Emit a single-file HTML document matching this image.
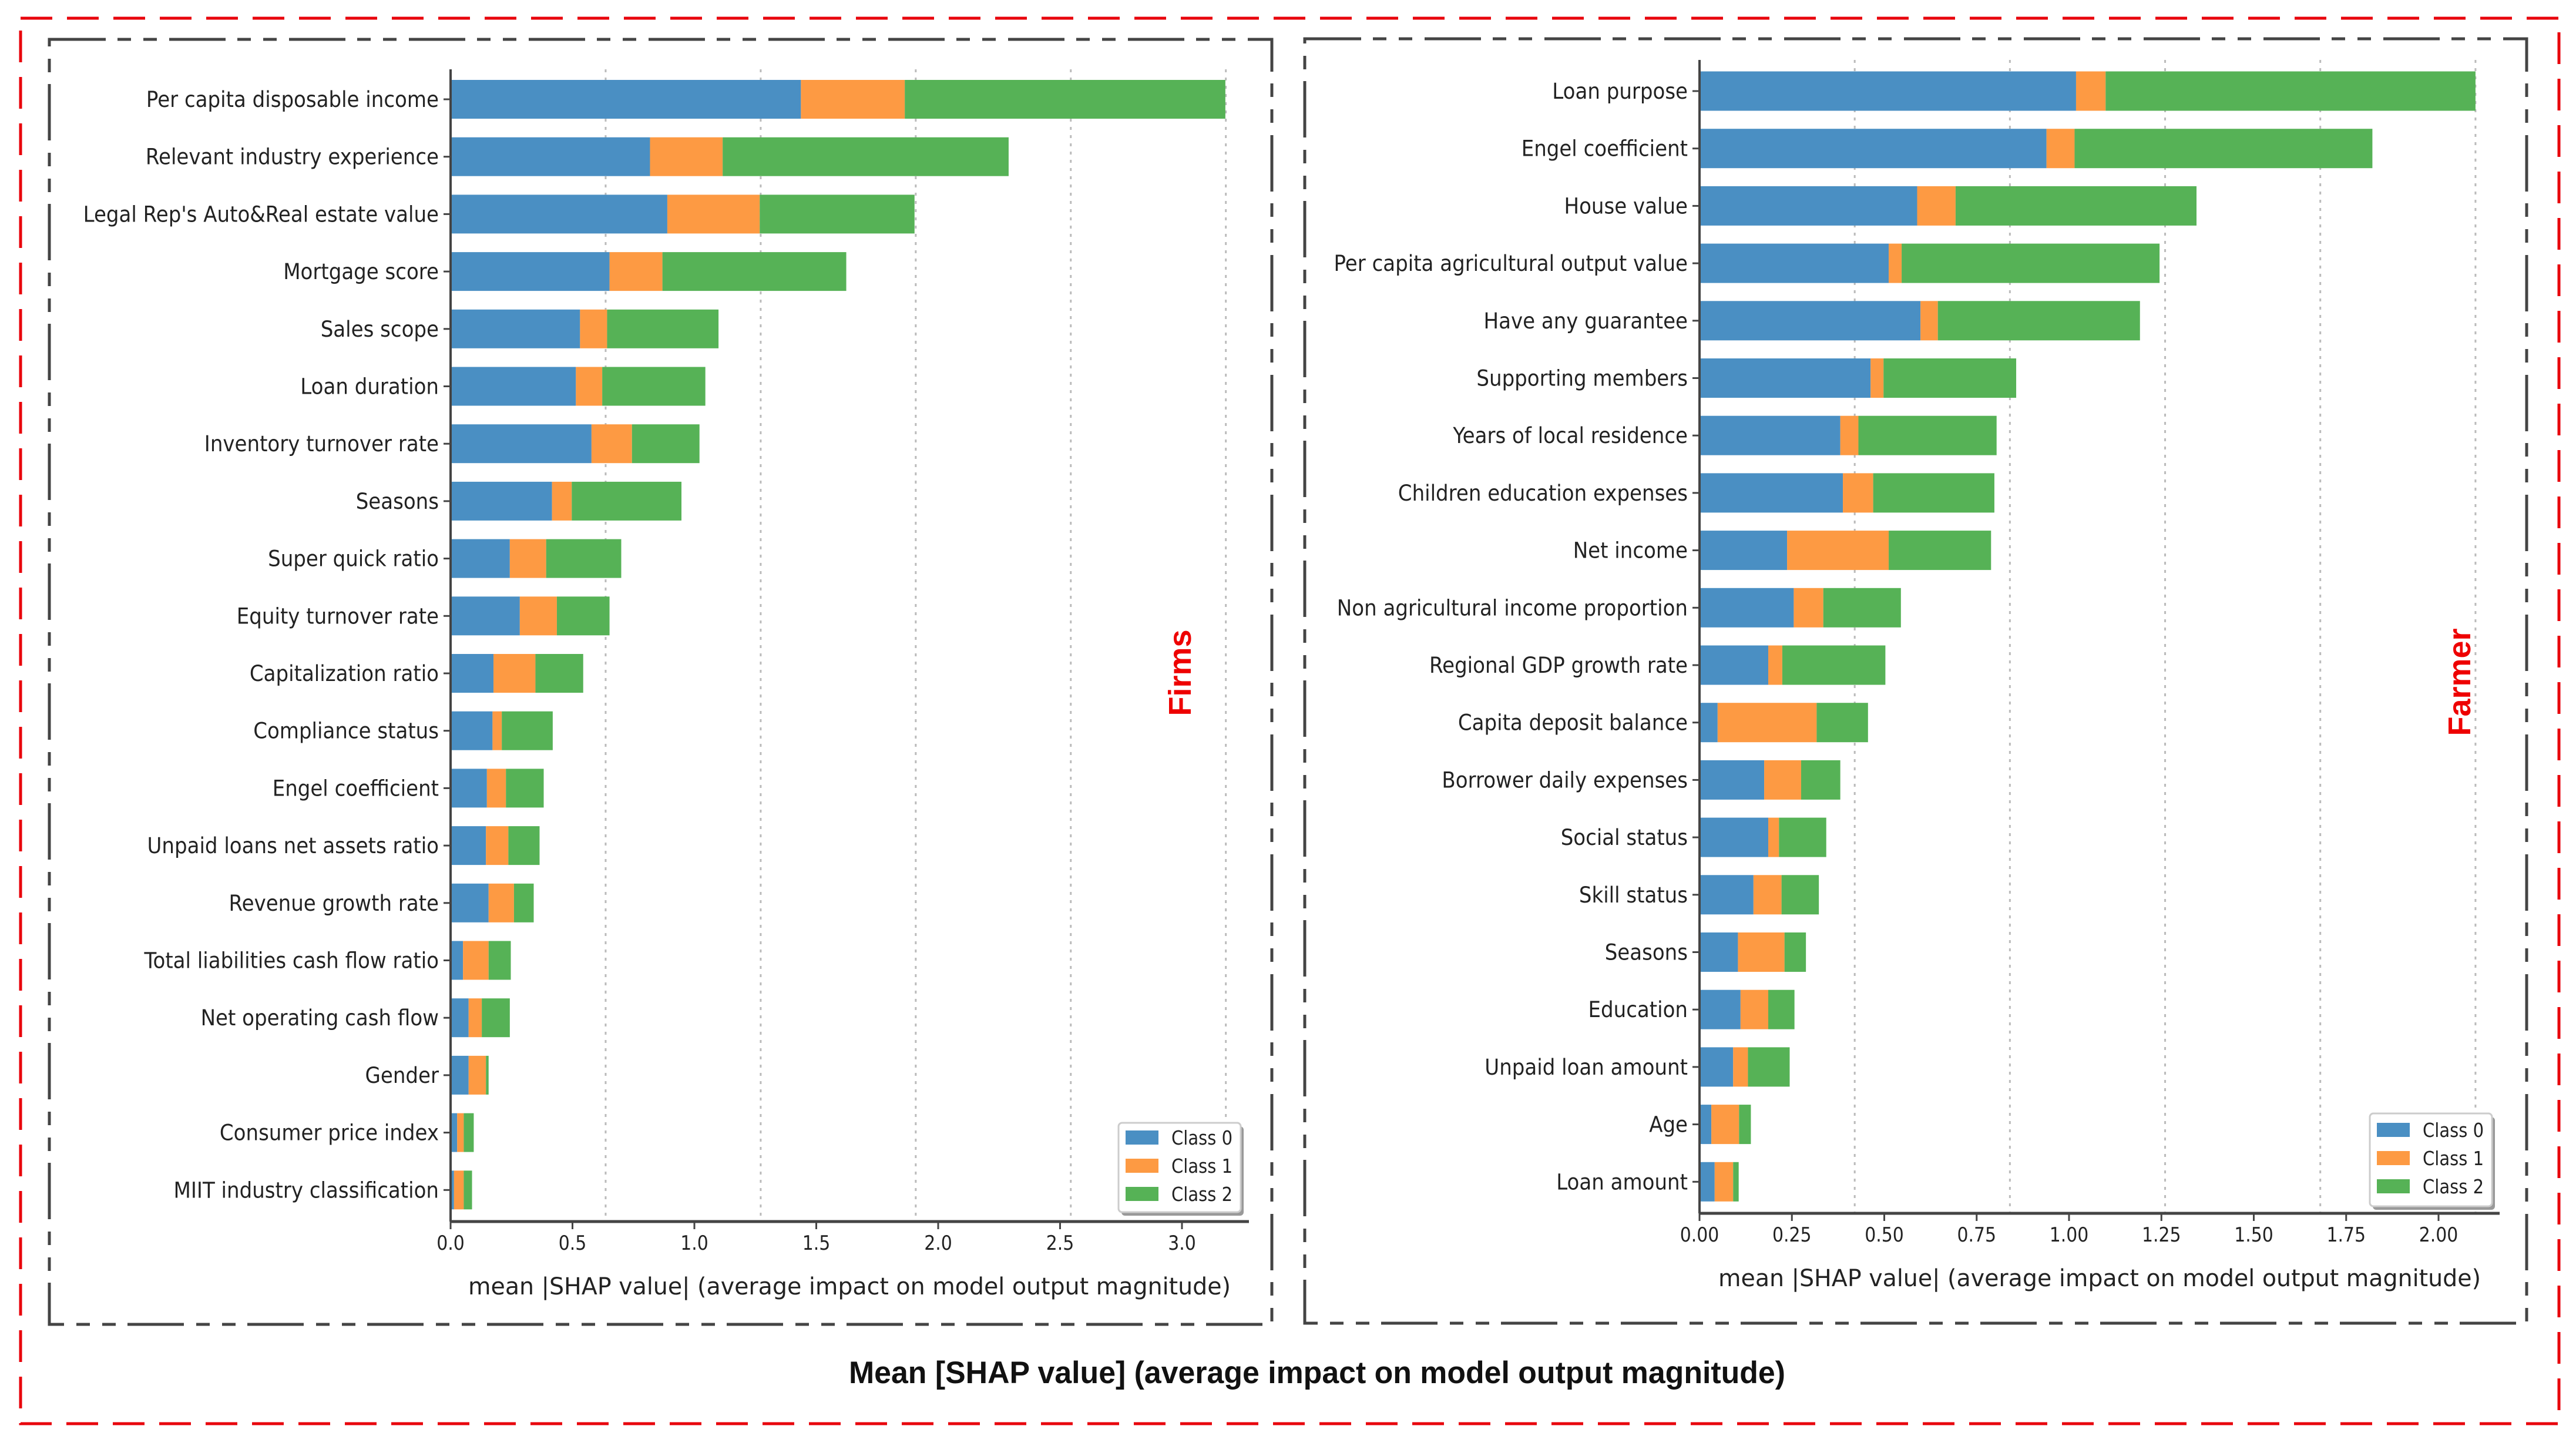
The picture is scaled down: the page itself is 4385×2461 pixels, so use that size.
<!DOCTYPE html>
<html><head><meta charset="utf-8">
<style>
html,body{margin:0;padding:0;background:#fff;}
svg{display:block;}
text{font-family:"DejaVu Sans","Liberation Sans",sans-serif;fill:#222;}
</style></head>
<body>
<svg id="fig" width="4385" height="2461" viewBox="0 0 4385 2461" xmlns="http://www.w3.org/2000/svg">
<rect x="0" y="0" width="4385" height="2461" fill="#fff"/>
<rect x="35" y="31" width="4321" height="2392" fill="none" stroke="#e8000b" stroke-width="5" stroke-dasharray="54 25"/>
<rect x="84" y="67" width="2081" height="2187" fill="none" stroke="#444" stroke-width="5" stroke-dasharray="96 20 23 21 23 21"/>
<rect x="2221" y="66" width="2080" height="2186" fill="none" stroke="#444" stroke-width="5" stroke-dasharray="96 20 23 21 23 21"/>
<text x="2242" y="2354" text-anchor="middle" font-size="53" font-weight="bold" textLength="1594" lengthAdjust="spacingAndGlyphs" style="font-family:'Liberation Sans',sans-serif;fill:#111">Mean [SHAP value] (average impact on model output magnitude)</text>
<text transform="translate(2027,1145) rotate(-90)" text-anchor="middle" font-size="54" font-weight="bold" style="font-family:'Liberation Sans',sans-serif;fill:#ee0000">Firms</text>
<text transform="translate(4205,1161) rotate(-90)" text-anchor="middle" font-size="54" font-weight="bold" style="font-family:'Liberation Sans',sans-serif;fill:#ee0000">Farmer</text>
<g id="left"></g>
<g id="right"></g>
</svg>
<script>
const firmsFeatures = ["Per capita disposable income","Relevant industry experience","Legal Rep's Auto&Real estate value","Mortgage score","Sales scope","Loan duration","Inventory turnover rate","Seasons","Super quick ratio","Equity turnover rate","Capitalization ratio","Compliance status","Engel coefficient","Unpaid loans net assets ratio","Revenue growth rate","Total liabilities cash flow ratio","Net operating cash flow","Gender","Consumer price index","MIIT industry classification"];
const firmsClass0 = [1.437,0.818,0.889,0.652,0.531,0.514,0.578,0.416,0.243,0.284,0.176,0.172,0.149,0.145,0.156,0.051,0.074,0.074,0.027,0.014];
const firmsClass1 = [0.426,0.298,0.379,0.217,0.111,0.108,0.166,0.081,0.149,0.152,0.172,0.038,0.078,0.092,0.104,0.105,0.054,0.071,0.027,0.040];
const firmsClass2 = [1.315,1.173,0.635,0.754,0.457,0.423,0.277,0.450,0.308,0.216,0.196,0.209,0.155,0.128,0.081,0.091,0.115,0.011,0.041,0.034];
const firmsTicks = [0,0.5,1.0,1.5,2.0,2.5,3.0];
const firmsTickLabels = ["0.0","0.5","1.0","1.5","2.0","2.5","3.0"];
const firmsGrid = [0.636,1.272,1.908,2.544,3.18];

const farmerFeatures = ["Loan purpose","Engel coefficient","House value","Per capita agricultural output value","Have any guarantee","Supporting members","Years of local residence","Children education expenses","Net income","Non agricultural income proportion","Regional GDP growth rate","Capita deposit balance","Borrower daily expenses","Social status","Skill status","Seasons","Education","Unpaid loan amount","Age","Loan amount"];
const farmerClass0 = [1.019,0.939,0.589,0.512,0.598,0.463,0.381,0.388,0.237,0.255,0.186,0.049,0.175,0.186,0.146,0.104,0.111,0.091,0.032,0.041];
const farmerClass1 = [0.080,0.076,0.104,0.035,0.047,0.035,0.049,0.082,0.275,0.080,0.038,0.268,0.100,0.029,0.076,0.126,0.075,0.040,0.075,0.050];
const farmerClass2 = [1.001,0.806,0.652,0.698,0.547,0.359,0.374,0.328,0.277,0.210,0.279,0.139,0.106,0.128,0.101,0.058,0.071,0.113,0.032,0.015];
const farmerTicks = [0,0.25,0.5,0.75,1.0,1.25,1.5,1.75,2.0];
const farmerTickLabels = ["0.00","0.25","0.50","0.75","1.00","1.25","1.50","1.75","2.00"];
const farmerGrid = [0.42,0.84,1.26,1.68,2.10];

const legendLabels = ["Class 0","Class 1","Class 2"];
const COLORS = ["#4a8fc3","#fd9a43","#56b256"];
const NS = "http://www.w3.org/2000/svg";

function mk(parent, tag, attrs){
  const e = document.createElementNS(NS, tag);
  for (const k in attrs) e.setAttribute(k, attrs[k]);
  parent.appendChild(e);
  return e;
}

function drawChart(g, cfg){
  const xs = v => cfg.x0 + v * cfg.ppu;
  const ys = i => cfg.y0 + i * cfg.step;
  cfg.grid.forEach(v => {
    const l = mk(g, "line", {x1:xs(v), x2:xs(v), y1:cfg.axTop, y2:cfg.axBot, stroke:"#bbb", "stroke-width":3, "stroke-dasharray":"5 9"});
    
    
  });
  cfg.names.forEach((name, i) => {
    const vals = [cfg.c0[i], cfg.c1[i], cfg.c2[i]];
    let acc = 0;
    vals.forEach((v, k) => {
      const r = mk(g, "rect", {x:xs(acc), y:ys(i)-cfg.bh/2, width:Math.max(0, xs(acc+v)-xs(acc)), height:cfg.bh, fill:COLORS[k]});
      
      
      acc += v;
    });
    const tk = mk(g, "line", {x1:cfg.x0-12, x2:cfg.x0, y1:ys(i), y2:ys(i), stroke:"#444", "stroke-width":3});
    
    
    const t = mk(g, "text", {x:cfg.x0-20, y:ys(i)+13, "text-anchor":"end", "font-size":37});
    t.textContent = name;
    
    
    const w = t.getComputedTextLength();
    if (w > 0) { t.setAttribute("textLength", (w*0.92).toFixed(1)); t.setAttribute("lengthAdjust","spacingAndGlyphs"); }
  });
  const ya = mk(g, "line", {x1:cfg.x0, x2:cfg.x0, y1:cfg.axTop, y2:cfg.axBot, stroke:"#444", "stroke-width":4});
  
  
  const xa = mk(g, "line", {x1:cfg.x0, x2:cfg.axRight, y1:cfg.axBot, y2:cfg.axBot, stroke:"#444", "stroke-width":5});
  
  
  cfg.ticks.forEach((v, j) => {
    const l = mk(g, "line", {x1:xs(v), x2:xs(v), y1:cfg.axBot, y2:cfg.axBot+13, stroke:"#444", "stroke-width":3});
    
    
    const t = mk(g, "text", {x:xs(v), y:cfg.axBot+48, "text-anchor":"middle", "font-size":34});
    t.textContent = cfg.tickLabels[j];
    
    
    const w = t.getComputedTextLength();
    if (w > 0) { t.setAttribute("textLength", (w*0.88).toFixed(1)); t.setAttribute("lengthAdjust","spacingAndGlyphs"); }
  });
  const xl = mk(g, "text", {x:cfg.xlX, y:cfg.axBot+124, "font-size":40, textLength:1298, lengthAdjust:"spacingAndGlyphs"});
  xl.textContent = "mean |SHAP value| (average impact on model output magnitude)";
  
  
  const L = cfg.legend;
  const lg = mk(g, "g", {});
  
  
  mk(lg, "rect", {x:L.x+5, y:L.y+6, width:L.w, height:L.h, rx:6, fill:"#999"});
  mk(lg, "rect", {x:L.x, y:L.y, width:L.w, height:L.h, rx:6, fill:"#fff", stroke:"#ccc", "stroke-width":3});
  legendLabels.forEach((lab, k) => {
    const cy = L.y + L.r0 + k*L.rs;
    const p = mk(lg, "rect", {x:L.x+12, y:cy-12, width:56, height:24, fill:COLORS[k]});
    
    
    const t = mk(lg, "text", {x:L.x+90, y:cy+12, "font-size":33});
    t.textContent = lab;
    
    
    const w = t.getComputedTextLength();
    if (w > 0) { t.setAttribute("textLength", (w*0.88).toFixed(1)); t.setAttribute("lengthAdjust","spacingAndGlyphs"); }
  });
}

drawChart(document.getElementById("left"), {
  names:firmsFeatures, c0:firmsClass0, c1:firmsClass1, c2:firmsClass2,
  ticks:firmsTicks, tickLabels:firmsTickLabels, grid:firmsGrid,
  x0:767, ppu:415, y0:169, step:97.7, bh:66, axTop:118, axBot:2079, axRight:2126, xlX:797,
  legend:{x:1904, y:1911, w:208, h:152, r0:25, rs:48}
});
drawChart(document.getElementById("right"), {
  names:farmerFeatures, c0:farmerClass0, c1:farmerClass1, c2:farmerClass2,
  ticks:farmerTicks, tickLabels:farmerTickLabels, grid:farmerGrid,
  x0:2893, ppu:629, y0:155, step:97.7, bh:67, axTop:102, axBot:2065, axRight:4255, xlX:2925,
  legend:{x:4034, y:1895, w:208, h:158, r0:28, rs:48}
});
</script>
</body></html>
